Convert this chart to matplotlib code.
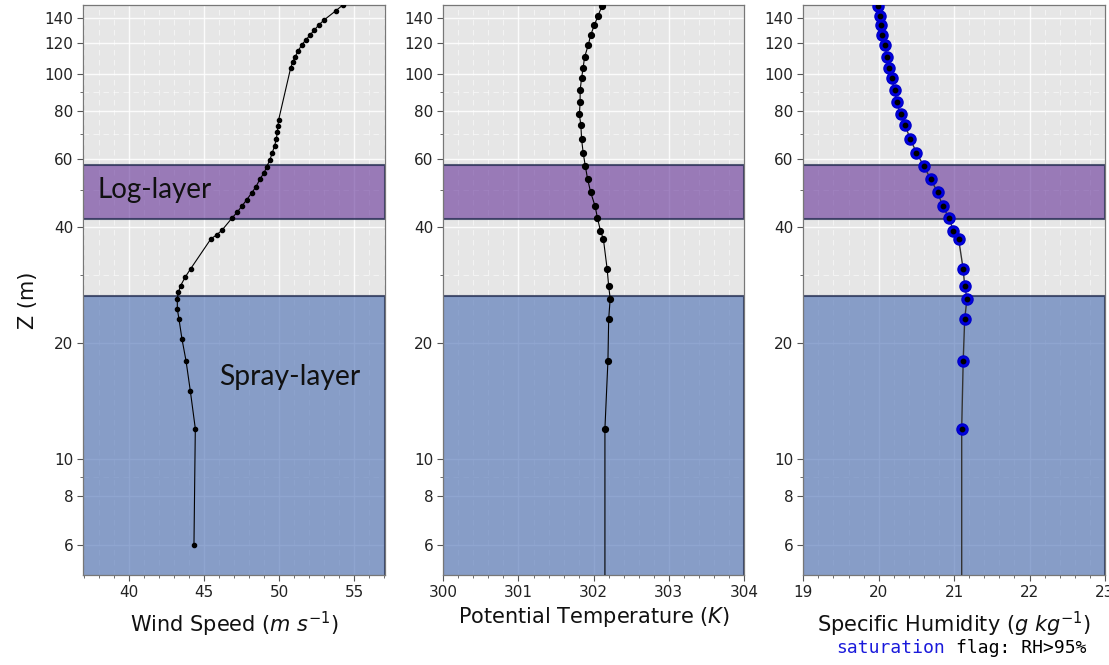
import matplotlib
matplotlib.use("Agg")
import matplotlib.pyplot as plt
from matplotlib.ticker import FixedLocator, MultipleLocator, FixedFormatter, NullFormatter

# ---------------- data ----------------
wind_z = [6, 12, 15, 18, 20.5, 23.1, 24.5, 26.1, 27.1, 28.2, 29.7, 31.2, 37.3, 38.2, 39.3,
          42.3, 43.8, 45.5, 47.2, 49.1, 50.9, 53.5, 55.3, 57.4, 59.9, 62.4, 65.1, 67.8,
          70.5, 73.1, 76.1, 103.7, 107.3, 110.9, 114.8, 119.2, 122.6, 126.1, 129.9,
          134.1, 138.2, 146.0, 150.8, 160.0]
wind_speed = [44.31, 44.40, 44.07, 43.78, 43.51, 43.31, 43.20, 43.20, 43.27, 43.42, 43.73,
              44.09, 45.44, 45.82, 46.18, 46.86, 47.20, 47.53, 47.84, 48.16, 48.44, 48.73,
              48.98, 49.16, 49.38, 49.53, 49.69, 49.80, 49.87, 49.91, 49.96, 50.76, 50.89,
              51.06, 51.26, 51.51, 51.78, 52.04, 52.33, 52.64, 53.00, 53.78, 54.22, 54.9]

thermo_z = [2, 12, 18, 23.1, 26.1, 28.1, 31.1, 37.2, 39.2, 42.3, 45.3, 49.3, 53.3, 57.5,
            62.5, 67.6, 73.5, 78.5, 84.3, 90.7, 97.7, 103.7, 110.7, 119.1, 126.1, 134.0,
            141.8, 150.0]
theta = [302.15, 302.15, 302.19, 302.20, 302.22, 302.20, 302.18, 302.13, 302.09, 302.05,
         302.02, 301.96, 301.92, 301.89, 301.86, 301.84, 301.83, 301.81, 301.82, 301.82,
         301.84, 301.86, 301.88, 301.93, 301.96, 302.01, 302.06, 302.11]
q = [21.10, 21.10, 21.12, 21.14, 21.17, 21.14, 21.12, 21.06, 20.99, 20.93, 20.85, 20.78,
     20.69, 20.60, 20.50, 20.42, 20.35, 20.29, 20.24, 20.21, 20.17, 20.14, 20.11, 20.08,
     20.05, 20.03, 20.02, 19.99]

ytick_vals = [6, 8, 10, 20, 40, 60, 80, 100, 120, 140]
ytick_labels = ["6", "8", "10", "20", "40", "60", "80", "100", "120", "140"]
yminor_vals = [9, 30, 50, 70, 90]

log_layer = (42, 58)
spray_layer = (1, 26.5)

xlabels = [r"Wind Speed ($m\ s^{-1}$)", r"Potential Temperature ($K$)",
           r"Specific Humidity ($g\ kg^{-1}$)"]

# ---------------- figure ----------------
W, H = 1109, 665
fig = plt.figure(figsize=(W / 100, H / 100), dpi=100)

bg = "#e6e6e6"
purple = (0.40, 0.20, 0.60, 0.60)
blue = (0.30, 0.44, 0.71, 0.62)
edge = (0.12, 0.16, 0.30, 0.75)

panels = [
    dict(left=83.3, right=385, xlim=(36.93, 57.05), major=5, minor=1, lpad=7),
    dict(left=443.3, right=744, xlim=(300, 304), major=1, minor=0.2, lpad=4),
    dict(left=803.3, right=1105, xlim=(19, 23), major=1, minor=0.2, lpad=7),
]
top_px, bot_px = 5, 575

axes = []
for i, p in enumerate(panels):
    ax = fig.add_axes([p["left"] / W, 1 - bot_px / H, (p["right"] - p["left"]) / W,
                       (bot_px - top_px) / H])
    ax.set_facecolor(bg)
    ax.set_yscale("log")
    ax.set_ylim(5, 151)
    ax.set_xlim(*p["xlim"])
    ax.yaxis.set_major_locator(FixedLocator(ytick_vals))
    ax.yaxis.set_major_formatter(FixedFormatter(ytick_labels))
    ax.yaxis.set_minor_locator(FixedLocator(yminor_vals))
    ax.yaxis.set_minor_formatter(NullFormatter())
    ax.xaxis.set_major_locator(MultipleLocator(p["major"]))
    ax.xaxis.set_minor_locator(MultipleLocator(p["minor"]))
    ax.set_axisbelow(True)
    ax.grid(which="major", color="white", lw=1.0, ls="-", alpha=0.85)
    ax.grid(which="minor", color="white", lw=0.8, ls=(0, (5, 4)), alpha=0.55)
    ax.tick_params(which="major", labelsize=11, length=4, width=0.8, color="#555555",
                   labelcolor="#222222", pad=3)
    ax.tick_params(which="minor", length=2, width=0.6, color="#555555")
    for s in ax.spines.values():
        s.set_color("#777777")
        s.set_linewidth(0.9)
    ax.axhspan(*log_layer, facecolor=purple, edgecolor=edge, lw=1.5, zorder=1)
    ax.axhspan(*spray_layer, facecolor=blue, edgecolor=edge, lw=1.5, zorder=1)
    ax.set_xlabel(xlabels[i], fontsize=15, labelpad=p["lpad"], color="#111111")
    axes.append(ax)

ax1, ax2, ax3 = axes

ax1.plot(wind_speed, wind_z, color="black", lw=0.8, marker="o", ms=3, zorder=3)
ax2.plot(theta, thermo_z, color="black", lw=0.8, marker="o", ms=4.2, zorder=3)
ax3.plot(q, thermo_z, color="#333333", lw=1.0, zorder=3)
ax3.plot(q, thermo_z, ls="none", marker="o", ms=8, mfc="#0000dd", mec="#0000cc",
         zorder=4)
ax3.plot(q, thermo_z, ls="none", marker="o", ms=3.2, mfc="black", mec="black",
         zorder=5)

ax1.text(37.89, 50, "Log-layer", fontsize=20, family=["Lato", "DejaVu Sans"],
         ha="left", va="center", color="#111111", zorder=6)
ax1.text(46.02, 16.3, "Spray-layer", fontsize=20.3, family=["Lato", "DejaVu Sans"],
         ha="left", va="center", color="#111111", zorder=6)

fig.text(28 / W, 1 - 300 / H, "Z (m)", rotation=90, fontsize=15, ha="center",
         va="center", color="#111111")

mono = ["DejaVu Sans Mono"]
fs_flag = 13
char_px = fs_flag * 100 / 72 * 0.602
x0 = 836
fig.text(x0 / W, 1 - 648 / H, "saturation", family=mono, fontsize=fs_flag,
         color="#1a1adb", ha="left", va="center")
fig.text((x0 + 11 * char_px) / W, 1 - 648 / H, "flag: RH>95%", family=mono,
         fontsize=fs_flag, color="black", ha="left", va="center")

fig.savefig("out.png", dpi=100)
